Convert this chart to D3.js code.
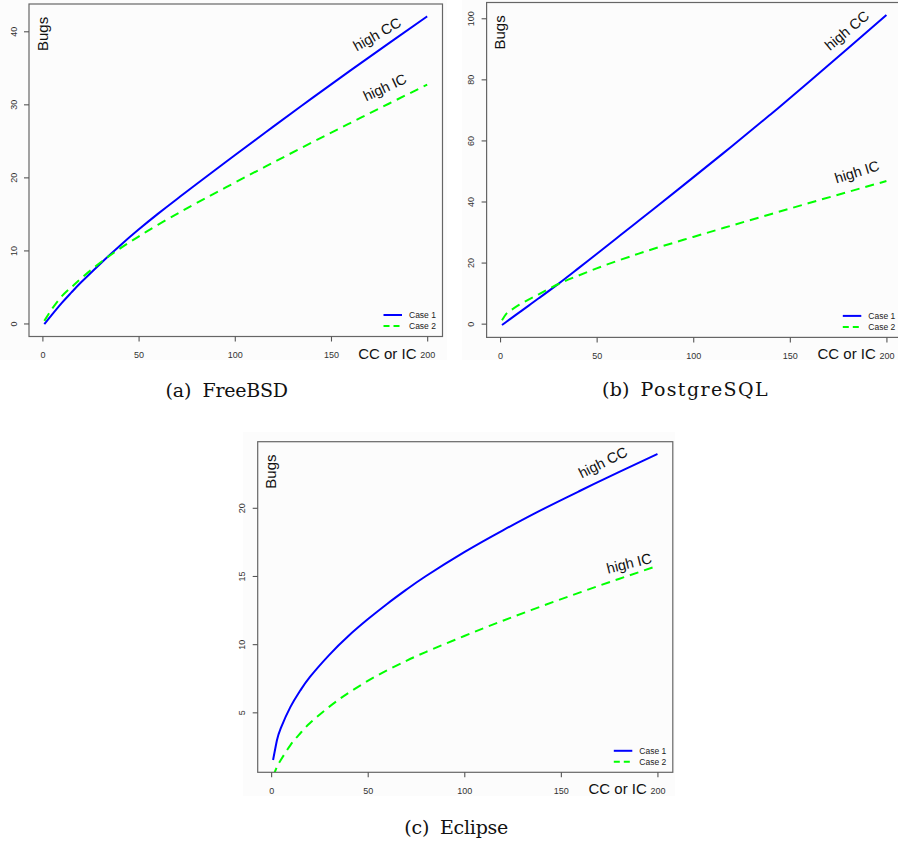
<!DOCTYPE html>
<html lang="en">
<head>
    <meta charset="UTF-8">
    <title>Bugs vs CC or IC</title>
    <style>
        body { margin: 0; background: #ffffff; }
    </style>
</head>
<body>
    <div id="chart"></div>

    <script src="https://d3js.org/d3.v7.min.js"></script>

    <script>
        // CC or IC values the curves were sampled at
        const cc = [1, 3, 5, 10, 15, 20, 30, 40, 50, 60, 70, 80, 100, 120, 140, 160, 180, 200];

        // bugs, one array per project and case
        const freebsdCase1 = [-0.1, 0.55, 1.2, 2.78, 4.22, 5.6, 8.15, 10.58, 12.85, 15.0, 17.05, 19.05, 23.03, 26.95, 30.81, 34.61, 38.35, 42.05];
        const freebsdCase2 = [0.35, 1.2, 2.0, 3.7, 4.95, 6.15, 8.3, 10.2, 11.9, 13.5, 15.0, 16.46, 19.28, 22.04, 24.76, 27.44, 30.08, 32.7];
        const postgresCase1 = [-0.44, 0.48, 1.4, 3.7, 6.0, 8.3, 12.95, 17.85, 22.8, 27.8, 32.8, 37.8, 47.9, 58.1, 68.5, 79.2, 90.1, 101.1];
        const postgresCase2 = [1.1, 3.05, 4.1, 6.2, 7.95, 9.6, 12.9, 15.6, 18.1, 20.4, 22.55, 24.6, 28.4, 32.14, 35.84, 39.5, 43.12, 46.7];
        const eclipseCase1 = [1.5, 2.95, 3.85, 5.4, 6.58, 7.58, 9.2, 10.6, 11.82, 12.95, 14.0, 14.98, 16.75, 18.35, 19.85, 21.25, 22.62, 23.95];
        const eclipseCase2 = [0.3, 1.0, 1.5, 2.6, 3.45, 4.2, 5.4, 6.42, 7.3, 8.08, 8.78, 9.42, 10.6, 11.72, 12.78, 13.8, 14.78, 15.74];

        // tick labels
        const xTicks = [0, 50, 100, 150, 200];
        const freebsdYTicks = [0, 10, 20, 30, 40];
        const postgresYTicks = [0, 20, 40, 60, 80, 100];
        const eclipseYTicks = [5, 10, 15, 20];

        const legendLabels = ["Case 1", "Case 2"];
        const curveLabels = ["high CC", "high IC"];
        const captionTags = ["(a)", "(b)", "(c)"];
        const captionNames = ["FreeBSD", "PostgreSQL", "Eclipse"];

        const W = 898, H = 843;
        const blue = "#0000ff", green = "#00ff00";

        // layout of each panel, labels placed in data units
        const panels = [
            { case1: freebsdCase1, case2: freebsdCase2, yTicks: freebsdYTicks,
              left: 29, right: 442.5, top: 4, bottom: 336.5,
              bg: [0, 0, 447, 360],
              labels: [{ x: 175.3, y: 39.0, a: -29.5 }, { x: 179.1, y: 31.7, a: -25 }],
              caption: { tagX: 165.5, nameX: 202.5, y: 396.5, tagW: 26, nameW: 85.5 } },
            { case1: postgresCase1, case2: postgresCase2, yTicks: postgresYTicks,
              left: 486.6, right: 901.8, top: 2.5, bottom: 337.4,
              bg: [462, 0, 436, 360],
              labels: [{ x: 181.2, y: 94.7, a: -40 }, { x: 185.5, y: 48.1, a: -17 }],
              caption: { tagX: 602, nameX: 640.5, y: 396, tagW: 27.5, nameW: 127 } },
            { case1: eclipseCase1, case2: eclipseCase2, yTicks: eclipseYTicks,
              left: 257.7, right: 672.8, top: 441.7, bottom: 772.3,
              bg: [243, 432, 432, 364],
              labels: [{ x: 172.9, y: 23.0, a: -26.5 }, { x: 186, y: 15.57, a: -14 }],
              caption: { tagX: 404.3, nameX: 440, y: 833.5, tagW: 25, nameW: 68.3 } }
        ];

        const svg = d3.select("#chart").append("svg")
            .attr("width", W)
            .attr("height", H)
            .style("font-family", "'Liberation Sans', Arial, sans-serif");

        // R style 4% padding on the data range
        function padded(ext) {
            const p = (ext[1] - ext[0]) * 0.04;
            return [ext[0] - p, ext[1] + p];
        }

        panels.forEach(function(p, i) {
            const g = svg.append("g");

            g.append("rect")
                .attr("x", p.bg[0]).attr("y", p.bg[1])
                .attr("width", p.bg[2]).attr("height", p.bg[3])
                .attr("fill", "#fcfcfc");

            const x = d3.scaleLinear().domain(padded(d3.extent(cc))).range([p.left, p.right]);
            const y = d3.scaleLinear().domain(padded(d3.extent(p.case1))).range([p.bottom, p.top]);

            const clipId = "clip" + i;
            g.append("clipPath").attr("id", clipId)
                .append("rect")
                .attr("x", p.left).attr("y", p.top)
                .attr("width", p.right - p.left).attr("height", p.bottom - p.top);

            const line = d3.line()
                .x(function(d) { return x(d[0]); })
                .y(function(d) { return y(d[1]); })
                .curve(d3.curveNatural);

            g.append("path")
                .datum(d3.zip(cc, p.case1))
                .attr("clip-path", "url(#" + clipId + ")")
                .attr("d", line)
                .attr("fill", "none")
                .attr("stroke", blue)
                .attr("stroke-width", 2);

            g.append("path")
                .datum(d3.zip(cc, p.case2))
                .attr("clip-path", "url(#" + clipId + ")")
                .attr("d", line)
                .attr("fill", "none")
                .attr("stroke", green)
                .attr("stroke-width", 2)
                .attr("stroke-dasharray", "9,6");

            // plot box
            g.append("rect")
                .attr("x", p.left).attr("y", p.top)
                .attr("width", p.right - p.left).attr("height", p.bottom - p.top)
                .attr("fill", "none")
                .attr("stroke", "#666")
                .attr("stroke-width", 1.2);

            // x axis
            const xa = g.append("g")
                .attr("transform", "translate(0," + p.bottom + ")")
                .call(d3.axisBottom(x).tickValues(xTicks).tickSize(5).tickPadding(10.5));
            xa.select(".domain").remove();
            xa.selectAll(".tick line").attr("stroke", "#555").attr("stroke-width", 1.1);
            xa.selectAll(".tick text")
                .attr("fill", "#333")
                .style("font-size", "9px")
                .style("font-family", "'Liberation Sans', Arial, sans-serif");

            // y axis, labels turned like R's las = 0
            const ya = g.append("g")
                .attr("transform", "translate(" + p.left + ",0)")
                .call(d3.axisLeft(y).tickValues(p.yTicks).tickSize(5));
            ya.select(".domain").remove();
            ya.selectAll(".tick line").attr("stroke", "#555").attr("stroke-width", 1.1);
            ya.selectAll(".tick text")
                .attr("transform", "rotate(-90)")
                .attr("x", 0)
                .attr("y", -12.5)
                .attr("dy", 0)
                .attr("fill", "#333")
                .style("text-anchor", "middle")
                .style("font-size", "9px")
                .style("font-family", "'Liberation Sans', Arial, sans-serif");

            // axis titles
            g.append("text")
                .attr("transform", "translate(" + (p.left + 18.5) + "," + (p.top + 47) + ") rotate(-90)")
                .attr("fill", "#111")
                .style("font-size", "15px")
                .text("Bugs");

            g.append("text")
                .attr("x", p.right - 26)
                .attr("y", p.bottom + 22)
                .attr("text-anchor", "end")
                .attr("fill", "#111")
                .style("font-size", "15px")
                .text("CC or IC");

            // curve labels
            p.labels.forEach(function(l, k) {
                g.append("text")
                    .attr("transform", "translate(" + x(l.x) + "," + y(l.y) + ") rotate(" + l.a + ")")
                    .attr("text-anchor", "middle")
                    .attr("fill", "#111")
                    .style("font-size", "14.5px")
                    .text(curveLabels[k]);
            });

            // legend
            legendLabels.forEach(function(lab, k) {
                const ly = p.bottom - 21.5 + k * 11;
                g.append("line")
                    .attr("x1", p.right - 59).attr("x2", p.right - 40.5)
                    .attr("y1", ly).attr("y2", ly)
                    .attr("stroke", k === 0 ? blue : green)
                    .attr("stroke-width", 2)
                    .attr("stroke-dasharray", k === 0 ? null : "6,4");
                g.append("text")
                    .attr("x", p.right - 33.5)
                    .attr("y", ly)
                    .attr("dy", "0.35em")
                    .attr("fill", "#222")
                    .style("font-size", "8.5px")
                    .text(lab);
            });

            // caption below the panel
            const c = p.caption;
            g.append("text")
                .attr("x", c.tagX).attr("y", c.y)
                .attr("textLength", c.tagW)
                .attr("lengthAdjust", "spacing")
                .attr("fill", "#111")
                .style("font-family", "'DejaVu Serif', 'Liberation Serif', serif")
                .style("font-size", "19px")
                .text(captionTags[i]);
            g.append("text")
                .attr("x", c.nameX).attr("y", c.y)
                .attr("textLength", c.nameW)
                .attr("lengthAdjust", "spacing")
                .attr("fill", "#111")
                .style("font-family", "'DejaVu Serif', 'Liberation Serif', serif")
                .style("font-size", "19px")
                .text(captionNames[i]);
        });
    </script>
</body>
</html>
